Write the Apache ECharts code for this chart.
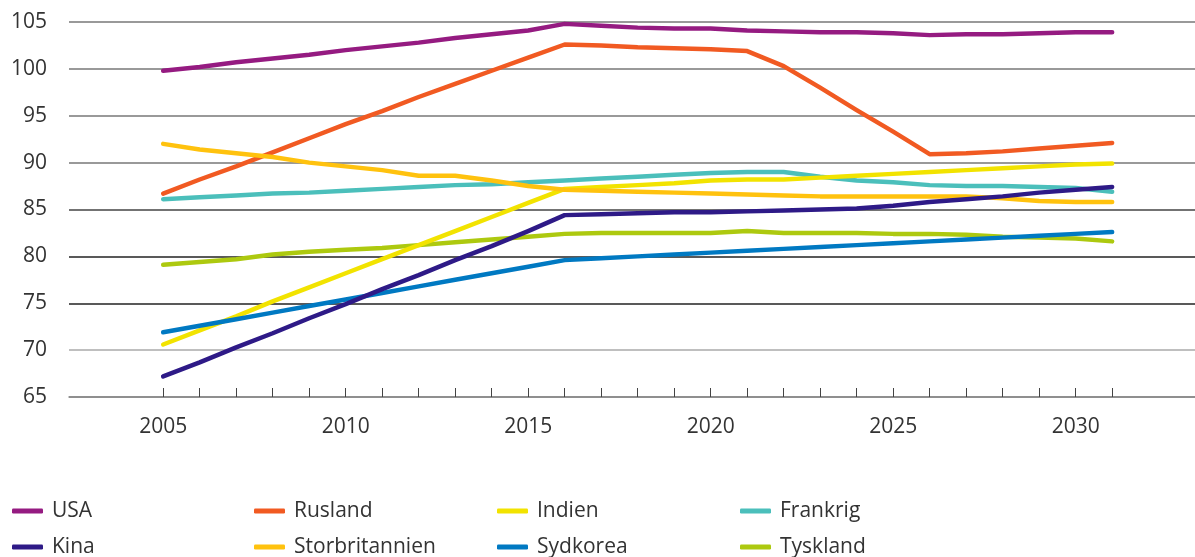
<!DOCTYPE html>
<html>
<head>
<meta charset="utf-8">
<script src="https://cdn.jsdelivr.net/npm/echarts@6/dist/echarts.min.js"></script>
<style>
html,body{margin:0;padding:0;background:#fff;}
#chart{width:1195px;height:557px;}
</style>
</head>
<body>
<div id="chart"></div>
<script>
const years = [2005,2006,2007,2008,2009,2010,2011,2012,2013,2014,2015,2016,2017,2018,2019,2020,2021,2022,2023,2024,2025,2026,2027,2028,2029,2030,2031];
const labelYears = [2005,2010,2015,2020,2025,2030];
const yTicks = [65,70,75,80,85,90,95,100,105];

const usa =     [99.8,100.2,100.7,101.1,101.5,102.0,102.4,102.8,103.3,103.7,104.1,104.8,104.6,104.4,104.3,104.3,104.1,104.0,103.9,103.9,103.8,103.6,103.7,103.7,103.8,103.9,103.9];
const rusland = [86.7,88.2,89.6,91.1,92.6,94.1,95.5,97.0,98.4,99.8,101.2,102.6,102.5,102.3,102.2,102.1,101.9,100.3,98.0,95.6,93.3,90.9,91.0,91.2,91.5,91.8,92.1];
const indien =  [70.6,72.1,73.6,75.2,76.7,78.2,79.7,81.2,82.7,84.2,85.7,87.2,87.4,87.6,87.8,88.1,88.2,88.2,88.4,88.6,88.8,89.0,89.2,89.4,89.6,89.8,89.9];
const frankrig =[86.1,86.3,86.5,86.7,86.8,87.0,87.2,87.4,87.6,87.7,87.9,88.1,88.3,88.5,88.7,88.9,89.0,89.0,88.5,88.1,87.9,87.6,87.5,87.5,87.4,87.3,86.9];
const kina =    [67.2,68.7,70.3,71.8,73.4,74.9,76.5,78.0,79.6,81.1,82.7,84.4,84.5,84.6,84.7,84.7,84.8,84.9,85.0,85.1,85.4,85.8,86.1,86.4,86.8,87.1,87.4];
const storbritannien = [92.0,91.4,91.0,90.6,90.0,89.6,89.2,88.6,88.6,88.1,87.5,87.1,87.0,86.9,86.8,86.7,86.6,86.5,86.4,86.4,86.4,86.4,86.4,86.2,85.9,85.8,85.8];
const sydkorea =[71.9,72.6,73.3,74.0,74.7,75.4,76.1,76.8,77.5,78.2,78.9,79.6,79.8,80.0,80.2,80.4,80.6,80.8,81.0,81.2,81.4,81.6,81.8,82.0,82.2,82.4,82.6];
const tyskland =[79.1,79.4,79.7,80.2,80.5,80.7,80.9,81.2,81.5,81.8,82.1,82.4,82.5,82.5,82.5,82.5,82.7,82.5,82.5,82.5,82.4,82.4,82.3,82.1,82.0,81.9,81.6];

const seriesNames = ['USA','Rusland','Indien','Frankrig','Kina','Storbritannien','Sydkorea','Tyskland'];
const seriesData = [usa,rusland,indien,frankrig,kina,storbritannien,sydkorea,tyskland];
const colors = ['#951b81','#f15a22','#f2e300','#4bbfbb','#2e1a87','#ffc20e','#0079c2','#adc90f'];

const FONT = "'Open Sans', 'Noto Sans', sans-serif";
const chart = echarts.init(document.getElementById('chart'), null, {renderer:'canvas'});

const series = seriesNames.map((n,i)=>({
  name:n, type:'line', showSymbol:false, symbol:'none',
  data: years.map((y,j)=>[y, seriesData[i][j]]),
  lineStyle:{width:4.5, color:colors[i], cap:'round', join:'round'},
  itemStyle:{color:colors[i]},
  z: 10 - (i%4)
}));

function legend(left, names){
  return {
    orient:'vertical', left:left, top:494, height:90, width:240,
    data:names, icon:'roundRect', itemWidth:31, itemHeight:5, itemGap:12,
    textStyle:{fontFamily:FONT, fontSize:21, color:'#333', lineHeight:24, padding:[0,0,0,4]},
    selectedMode:false
  };
}

chart.setOption({
  animation:false,
  color:colors,
  grid:{left:69, right:0, top:22, bottom:160, containLabel:false},
  legend:[
    legend(7,['USA','Kina']),
    legend(249,['Rusland','Storbritannien']),
    legend(492,['Indien','Sydkorea']),
    legend(735,['Frankrig','Tyskland'])
  ],
  xAxis:{
    type:'value', min:2002.42, max:2033.27,
    axisLine:{show:true, lineStyle:{color:'#888', width:1.5}},
    axisTick:{show:true, inside:true, length:9, customValues:years, lineStyle:{color:'#444', width:1}},
    axisLabel:{customValues:labelYears, margin:20, fontFamily:FONT, fontSize:21, color:'#333', formatter:v=>String(v)},
    splitLine:{show:false}
  },
  yAxis:{
    type:'value', min:65, max:105, interval:5,
    axisLine:{show:false}, axisTick:{show:false},
    axisLabel:{margin:22, fontFamily:FONT, fontSize:21, color:'#333'},
    splitLine:{show:true, lineStyle:{width:1.5, color:['#888','#aaa','#222','#222','#444','#777','#777','#777','#777']}}
  },
  series:series
});
</script>
</body>
</html>
